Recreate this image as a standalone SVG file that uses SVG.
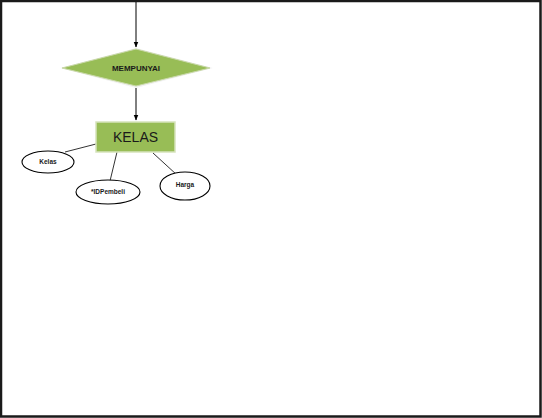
<svg xmlns="http://www.w3.org/2000/svg" width="542" height="418" viewBox="0 0 542 418">
<defs>
<style>
.shape{fill:#98bd56;stroke:#c9d9a8;stroke-width:1}
.attr{fill:#ffffff;stroke:#000000;stroke-width:1.1}
.conn{stroke:#000000;stroke-width:1;fill:none}
.conn2{stroke:#333333;stroke-width:1;fill:none}
.t{font-family:"Liberation Sans","DejaVu Sans",sans-serif;fill:#1a1a1a;text-anchor:middle}
</style>
<marker id="arr" viewBox="0 0 10 10" refX="9" refY="5" markerWidth="6" markerHeight="6" orient="auto">
<path d="M0,1 L10,5 L0,9 z" fill="#000"/>
</marker>
</defs>
<rect x="0" y="0" width="542" height="418" fill="#ffffff"/>
<rect x="1" y="1" width="539.5" height="415.5" fill="none" stroke="#1a1a1a" stroke-width="2.5"/>
<g id="connectors">
<line class="conn" x1="136" y1="2" x2="136" y2="47" marker-end="url(#arr)"/>
<line class="conn" x1="136" y1="88" x2="136" y2="120" marker-end="url(#arr)"/>
<line class="conn2" x1="96" y1="144" x2="65" y2="152"/>
<line class="conn2" x1="117" y1="152" x2="110" y2="181"/>
<line class="conn2" x1="153" y1="153" x2="177" y2="175"/>
</g>
<g id="mempunyai">
<polygon points="136,48 213,68 136,88 60,68" fill="#f2f2f2"/>
<polygon class="shape" points="136,49 210,68 136,86 62,68"/>
<text class="t" x="136" y="71" font-size="8" font-weight="bold">MEMPUNYAI</text>
</g>
<g id="kelas">
<rect x="96" y="122" width="79" height="30" fill="#98bd56" stroke="#d6e3bc" stroke-width="1.5"/>
<text class="t" x="135.5" y="142" font-size="14" fill="#1f2a10">KELAS</text>
</g>
<g id="attr-kelas">
<ellipse class="attr" cx="48" cy="162" rx="26" ry="11"/>
<text class="t" x="48" y="164" font-size="6.5" font-weight="bold">Kelas</text>
</g>
<g id="attr-idpembeli">
<ellipse class="attr" cx="108" cy="192" rx="32" ry="12"/>
<text class="t" x="108" y="194" font-size="6.5" font-weight="bold">*IDPembeli</text>
</g>
<g id="attr-harga">
<ellipse class="attr" cx="185" cy="186" rx="25" ry="14"/>
<text class="t" x="185" y="187" font-size="6.5" font-weight="bold">Harga</text>
</g>
</svg>
